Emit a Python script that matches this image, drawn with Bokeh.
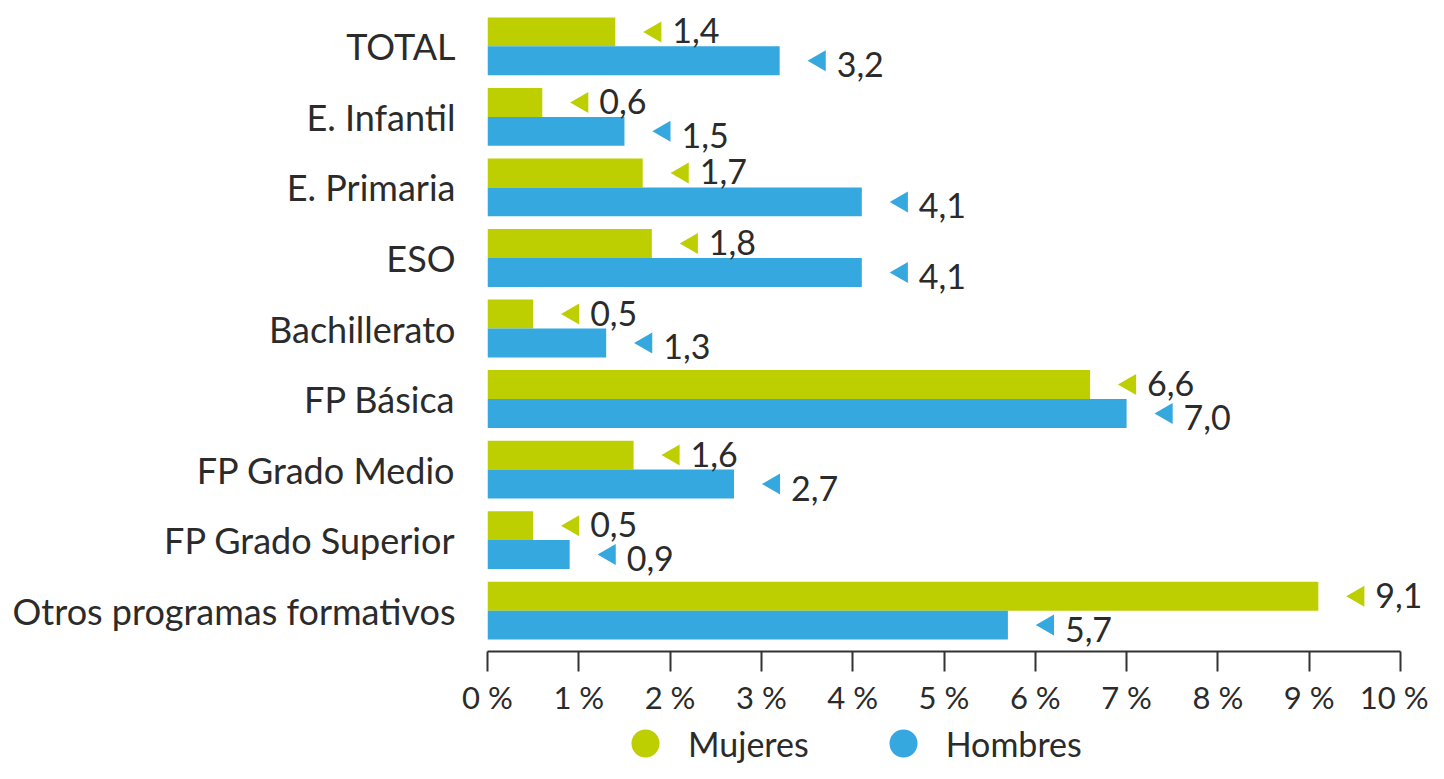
import math
from bokeh.plotting import figure
from bokeh.layouts import column
from bokeh.models import ColumnDataSource, Range1d, FixedTicker, Legend, LegendItem
from bokeh.core.properties import value
from bokeh.embed import file_html
from bokeh.resources import INLINE

categories = ["TOTAL", "E. Infantil", "E. Primaria", "ESO", "Bachillerato",
              "FP Básica", "FP Grado Medio", "FP Grado Superior",
              "Otros programas formativos"]
mujeres = [1.4, 0.6, 1.7, 1.8, 0.5, 6.6, 1.6, 0.5, 9.1]
hombres = [3.2, 1.5, 4.1, 4.1, 1.3, 7.0, 2.7, 0.9, 5.7]
x_ticks = [0, 1, 2, 3, 4, 5, 6, 7, 8, 9, 10]
x_tick_labels = [f"{t} %" for t in x_ticks]
series_names = ["Mujeres", "Hombres"]

GREEN = "#BDCF00"
BLUE = "#35A8E0"
TEXT = "#2b2b2b"
FONT = "Lato"

W = 1428
H_MAIN = 718
H_LEG = 45
FRAME_L, FRAME_R = 487, 1420
PX_PER_UNIT = (1400 - 487) / 10
X_END = 10 + (FRAME_R - 1400) / PX_PER_UNIT
AXIS_Y = 653

idx = list(range(len(categories)))
bh = 0.41
TRI_DX = 40 / PX_PER_UNIT

def fmt(v):
    return f"{v:.1f}".replace(".", ",")

src_m = ColumnDataSource(dict(y=[i - bh / 2 for i in idx], v=mujeres,
                              tx=[v + TRI_DX for v in mujeres],
                              lab=[fmt(v) for v in mujeres]))
src_h = ColumnDataSource(dict(y=[i + bh / 2 for i in idx], v=hombres,
                              tx=[v + TRI_DX for v in hombres],
                              lab=[fmt(v) for v in hombres]))

p = figure(width=W, height=H_MAIN, output_backend="svg", toolbar_location=None,
           x_range=Range1d(0, X_END), y_range=Range1d(8.579, -0.650),
           min_border_left=FRAME_L, min_border_right=W - FRAME_R, min_border_top=0,
           min_border_bottom=H_MAIN - AXIS_Y)
p.outline_line_color = None
p.grid.visible = False

p.hbar(y="y", left=0, right="v", height=bh, source=src_m, color=GREEN, line_color=None)
p.hbar(y="y", left=0, right="v", height=bh, source=src_h, color=BLUE, line_color=None)

for src, col, dy in ((src_m, GREEN, -1), (src_h, BLUE, 4)):
    p.text(x="v", y="y", text="lab", source=src, x_offset=57, y_offset=dy,
           text_font=value(FONT), text_font_size="34px", text_color=TEXT,
           text_baseline="middle", text_align="left")
    p.scatter(x="tx", y="y", source=src, marker="triangle", size=21,
              angle=math.pi / 2, color=col, line_color=None)

# axes
p.yaxis.ticker = FixedTicker(ticks=idx)
p.yaxis.major_label_overrides = {i: c for i, c in zip(idx, categories)}
p.yaxis.axis_line_color = None
p.yaxis.major_tick_line_color = None
p.yaxis.minor_tick_line_color = None
p.yaxis.major_label_standoff = 26
p.yaxis.major_label_text_font = FONT
p.yaxis.major_label_text_font_size = "36px"
p.yaxis.major_label_text_color = TEXT

p.xaxis.ticker = FixedTicker(ticks=x_ticks)
p.xaxis.bounds = (0, 10)
p.xaxis.major_label_overrides = {t: l for t, l in zip(x_ticks, x_tick_labels)}
p.xaxis.axis_line_color = "#333333"
p.xaxis.axis_line_width = 2
p.xaxis.major_tick_line_color = "#333333"
p.xaxis.major_tick_line_width = 2
p.xaxis.major_tick_out = 20
p.xaxis.major_tick_in = 0
p.xaxis.minor_tick_line_color = None
p.xaxis.major_label_standoff = 6
p.xaxis.major_label_text_font = FONT
p.xaxis.major_label_text_font_size = "31px"
p.xaxis.major_label_text_color = TEXT

# legend in its own strip below the chart
pl = figure(width=W, height=H_LEG, output_backend="svg", toolbar_location=None,
            x_range=Range1d(0, 1), y_range=Range1d(0, 1),
            min_border_left=FRAME_L, min_border_right=W - FRAME_R,
            min_border_top=0, min_border_bottom=0)
pl.axis.visible = False
pl.grid.visible = False
pl.outline_line_color = None
# legend-only renderers, their point lies outside the visible range
rm = pl.scatter(x=[-5], y=[-5], marker="circle", color=GREEN, line_color=None)
rh = pl.scatter(x=[-5], y=[-5], marker="circle", color=BLUE, line_color=None)
GH = 70
leg_center = 743 - H_MAIN
legend = Legend(items=[LegendItem(label=series_names[0], renderers=[rm]),
                       LegendItem(label=series_names[1], renderers=[rh])],
                orientation="horizontal",
                location=(645 - GH / 2 - FRAME_L, H_LEG - (leg_center + GH / 2)),
                glyph_width=GH, glyph_height=GH, label_standoff=8, spacing=59,
                padding=0, margin=0, border_line_color=None,
                background_fill_alpha=0,
                label_text_font=FONT, label_text_font_size="34px",
                label_text_color=TEXT)
pl.add_layout(legend, "center")

layout = column(p, pl, spacing=0)
open("out.html", "w").write(file_html(layout, INLINE))
